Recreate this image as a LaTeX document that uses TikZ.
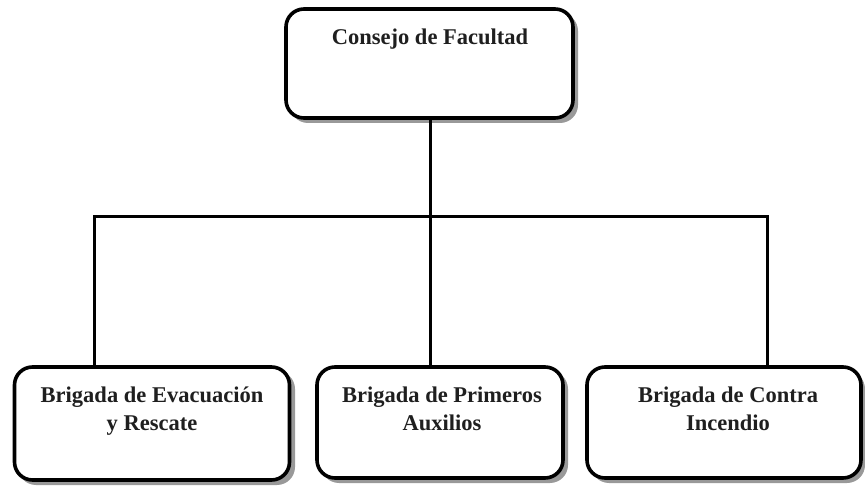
\documentclass[tikz,border=0pt]{standalone}
\usepackage{fontspec}
\setmainfont{Liberation Serif}
\begin{document}
\begin{tikzpicture}[x=1pt,y=-1pt,
  orgbox/.style={draw=black, line width=3.6pt, rounded corners=18pt, fill=white, inner sep=0pt},
  lbl/.style={font=\fontsize{22.5}{28}\selectfont\bfseries, text=black!88, align=center, anchor=base, inner sep=0pt},
  conn/.style={line width=3pt, draw=black}]
\useasboundingbox (0,0) rectangle (865,486);
% shadows
\fill[black!40, rounded corners=18pt] (290,13) rectangle (578,123);
\fill[black!40, rounded corners=18pt] (18,371) rectangle (295,485);
\fill[black!40, rounded corners=18pt] (321,371) rectangle (568,483);
\fill[black!40, rounded corners=18pt] (591,371) rectangle (865,483);
% boxes
\node[orgbox, minimum width=287pt, minimum height=109pt] (top) at (429.5,63.5) {};
\node[orgbox, minimum width=275pt, minimum height=113pt] (left) at (152,423.5) {};
\node[orgbox, minimum width=246pt, minimum height=111pt] (mid) at (440,422.5) {};
\node[orgbox, minimum width=274pt, minimum height=111pt] (right) at (724,422.5) {};
% texts
\node[lbl] (toptxt) at (430,45) {Consejo de Facultad};
\node[lbl] (lefttxt) at (152,430) {Brigada de Evacuación\\y Rescate};
\node[lbl] (midtxt) at (442,430) {Brigada de Primeros\\Auxilios};
\node[lbl] (righttxt) at (728,430) {Brigada de Contra\\Incendio};
% connectors
\coordinate (busL) at (94,217);
\coordinate (busR) at (767,217);
\coordinate (busM) at (430,217);
\draw[conn] (top.south -| busM) -- (busM);
\draw[conn, line cap=rect] (busL) -- (busR);
\draw[conn] (busL) -- (busL |- left.north);
\draw[conn] (busM) -- (busM |- mid.north);
\draw[conn] (busR) -- (busR |- right.north);
\end{tikzpicture}
\end{document}
